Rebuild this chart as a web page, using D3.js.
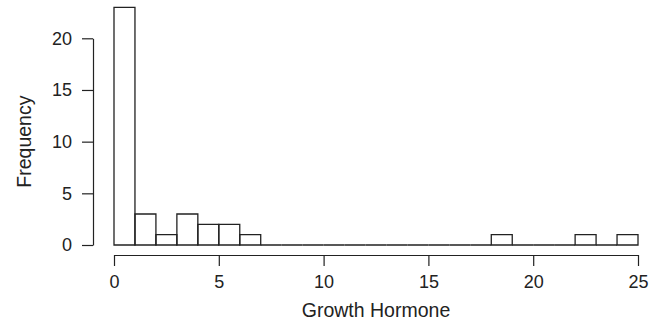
<!DOCTYPE html>
<html>
<head>
<meta charset="utf-8">
<script src="https://cdn.jsdelivr.net/npm/d3@7"></script>
<style>
  html, body { margin: 0; padding: 0; background: #fff; }
  svg text { font-family: "Liberation Sans", Arial, Helvetica, sans-serif; fill: #222; }
</style>
</head>
<body>
<svg id="chart" width="659" height="323"></svg>
<script>
// histogram bins (width 1) and their counts
const binStarts = d3.range(0, 25);
const counts = [23, 3, 1, 3, 2, 2, 1, 0, 0, 0, 0, 0, 0, 0, 0, 0, 0, 0, 1, 0, 0, 0, 1, 0, 1];
const xTicks = [0, 5, 10, 15, 20, 25];
const yTicks = [0, 5, 10, 15, 20];

const svg = d3.select('#chart');
const stroke = '#222';

const x = d3.scaleLinear().domain([0, 25]).range([114, 638]);
const y = d3.scaleLinear().domain([0, 20]).range([245, 38.3]);

// bars (paths so empty bins still show as a line on the baseline)
svg.append('g')
    .selectAll('path')
    .data(binStarts)
    .enter()
    .append('path')
    .attr('d', (d, i) => {
        const x0 = x(d), x1 = x(d + 1), y0 = y(0), y1 = y(counts[i]);
        return `M${x0},${y0}V${y1}H${x1}V${y0}Z`;
    })
    .attr('fill', 'none')
    .attr('stroke', stroke)
    .attr('stroke-width', 1.3);

// x axis
const xAxis = svg.append('g')
    .attr('transform', 'translate(0, 255)')
    .call(d3.axisBottom(x).tickValues(xTicks).tickSize(11).tickPadding(9).tickSizeOuter(0));

// y axis
const yAxis = svg.append('g')
    .attr('transform', 'translate(93, 0)')
    .call(d3.axisLeft(y).tickValues(yTicks).tickSize(11).tickPadding(10).tickSizeOuter(0));

[xAxis, yAxis].forEach(g => {
    g.select('.domain').attr('stroke', stroke).attr('stroke-width', 1.2);
    g.selectAll('.tick line').attr('stroke', stroke).attr('stroke-width', 1.2);
    g.selectAll('.tick text').style('font-size', '18px').attr('fill', '#222');
});

svg.append('text')
    .attr('x', x(12.5))
    .attr('y', 317)
    .attr('text-anchor', 'middle')
    .style('font-size', '19.5px')
    .text('Growth Hormone');

svg.append('text')
    .attr('transform', `translate(31, ${y(10)}) rotate(-90)`)
    .attr('text-anchor', 'middle')
    .style('font-size', '19.5px')
    .text('Frequency');
</script>
</body>
</html>
